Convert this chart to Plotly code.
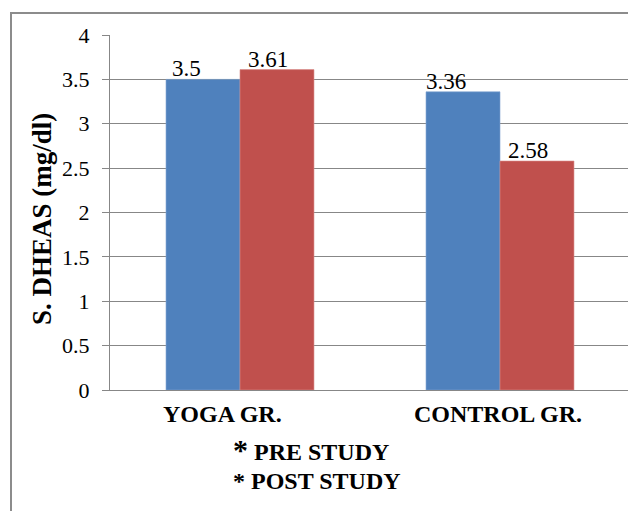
import plotly.graph_objects as go

# Serum DHEAS (mg/dl) before and after the study period
groups = ["YOGA GR.", "CONTROL GR."]
pre_study = [3.5, 3.36]
post_study = [3.61, 2.58]
series_names = ["PRE STUDY", "POST STUDY"]
y_ticks = [0, 0.5, 1, 1.5, 2, 2.5, 3, 3.5, 4]
y_title = "S. DHEAS (mg/dl)"

FONT = "'Liberation Serif', 'Times New Roman', Times, serif"
BLUE = "#4F81BD"
RED = "#C0504D"
GRID = "#878787"

W, H = 628, 511
M_L, M_R, M_T, M_B = 110, 0, 35, 121

fig = go.Figure()
fig.add_trace(go.Bar(x=groups, y=pre_study, name=series_names[0],
                     marker=dict(color=BLUE, line=dict(color="#7FA3D0", width=0.6))))
fig.add_trace(go.Bar(x=groups, y=post_study, name=series_names[1],
                     marker=dict(color=RED, line=dict(color="#D98B88", width=0.6))))

annotations = []
bar_half = 0.1423  # offset of each bar centre from its group centre
for i in range(len(groups)):
    for vals, dx, shift in ((pre_study, -bar_half, -17), (post_study, bar_half, -9)):
        annotations.append(dict(
            x=i + dx, y=vals[i], xref="x", yref="y", text=f"{vals[i]:g}",
            showarrow=False, xanchor="center", yanchor="bottom", xshift=shift, yshift=-4,
            font=dict(family=FONT, size=23, color="black")))

# category labels under the axis
for i, g in enumerate(groups):
    annotations.append(dict(
        x=i, y=0, xref="x", yref="y", text=f"<b>{g}</b>", showarrow=False,
        xanchor="center", yanchor="top", yshift=-9, xshift=-18 if i == 0 else -2,
        font=dict(family=FONT, size=24, color="black")))

plot_h = H - M_T - M_B
plot_w = W - M_L - M_R
def px_to_paper(px, py):
    return (px - M_L) / plot_w, (H - M_B - py) / plot_h

# vertical axis title
tx, ty = px_to_paper(42, 219)
annotations.append(dict(
    x=tx, y=ty, xref="paper", yref="paper", showarrow=False, textangle=-90,
    xanchor="center", yanchor="middle", text=f"<b>{y_title}</b>",
    font=dict(family=FONT, size=27, color="black")))

# series key lines below the chart
x0, y0 = px_to_paper(231, 449)
annotations.append(dict(
    x=x0, y=y0, xref="paper", yref="paper", showarrow=False, xanchor="left", yanchor="middle",
    text=f"<b><span style='font-size:30px'>*</span> {series_names[0]}</b>",
    font=dict(family=FONT, size=24, color="black")))
x1, y1 = px_to_paper(231, 481)
annotations.append(dict(
    x=x1, y=y1, xref="paper", yref="paper", showarrow=False, xanchor="left", yanchor="middle",
    text=f"<b>* {series_names[1]}</b>",
    font=dict(family=FONT, size=24, color="black")))

# outer chart-area border
bx0, by1 = px_to_paper(11, 13)
shapes = [dict(type="rect", xref="paper", yref="paper", x0=bx0, y0=-0.6, x1=1.2, y1=by1,
               line=dict(color="#8C8C8C", width=2), fillcolor="rgba(0,0,0,0)", layer="below")]

fig.update_layout(
    width=W, height=H,
    margin=dict(l=M_L, r=M_R, t=M_T, b=M_B, pad=0),
    paper_bgcolor="white", plot_bgcolor="white",
    barmode="group", bargap=0.431, bargroupgap=0,
    showlegend=False,
    font=dict(family=FONT, size=22, color="black"),
    xaxis=dict(range=[-0.5, 1.4923], showticklabels=False, ticks="",
               showline=True, linecolor=GRID, linewidth=1.3, showgrid=False, zeroline=False),
    yaxis=dict(range=[0, 4], tickvals=y_ticks, ticktext=[f"{v:g}" for v in y_ticks],
               ticks="outside", ticklen=7, tickcolor=GRID, tickwidth=1.3,
               ticklabelstandoff=8,
               showline=True, linecolor=GRID, linewidth=1.3,
               showgrid=True, gridcolor=GRID, gridwidth=1.3, zeroline=False,
               tickfont=dict(family=FONT, size=22, color="black")),
    annotations=annotations,
    shapes=shapes,
)

fig.write_html("out.html")
